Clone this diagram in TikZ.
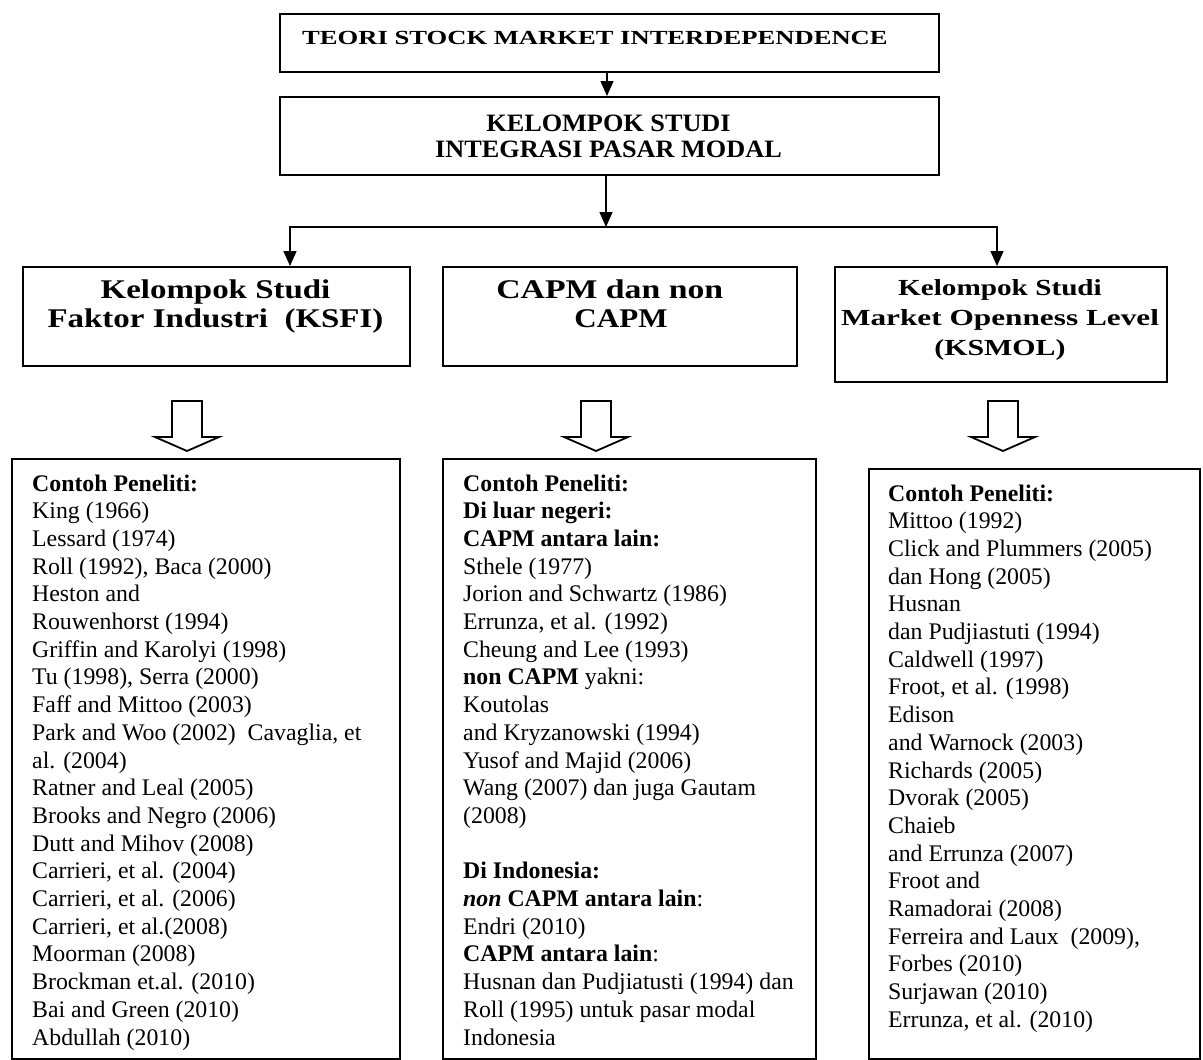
\documentclass[tikz,border=0pt]{standalone}
\usepackage{fontspec}
\setmainfont{Liberation Serif}
\usepackage{graphicx}
\usetikzlibrary{arrows.meta}

\begin{document}
\begin{tikzpicture}[x=1pt,y=-1pt,
  frame/.style={draw, line width=1.8pt, inner sep=0pt, anchor=north west},
  conn/.style={line width=1.4pt, -{Triangle[length=15pt,width=13pt]}},
  fork/.style={line width=1.4pt, {Triangle[length=15pt,width=13pt]}-{Triangle[length=15pt,width=13pt]}},
  hollow/.style={draw, line width=1.8pt, line join=miter},
  headtext/.style={anchor=base, align=center, inner sep=0pt},
  listtext/.style={anchor=base west, align=left, inner sep=0pt,
                   font=\fontsize{23.8}{27.7}\selectfont}]

\useasboundingbox (0,0) rectangle (1203,1060);

% --- top level boxes ---
\node[frame, minimum width=659pt, minimum height=58pt] (teori) at (279,13) {};
\node[anchor=base west, inner sep=0pt] (teoritxt) at (302,45)
  {\fontsize{20}{24}\selectfont\bfseries\scalebox{1.33}[1]{TEORI STOCK MARKET INTERDEPENDENCE}};

\node[frame, minimum width=659pt, minimum height=78pt] (kelompok) at (279,96) {};
% multi-line nodes: the base anchor sits on the last line
\node[headtext, font=\fontsize{25}{26}\selectfont\bfseries] (kelompoktxt) at (608.5,157.7)
  {\scalebox{1.05}[1]{KELOMPOK STUDI}\\\scalebox{1.05}[1]{INTEGRASI PASAR MODAL}};

% --- three study groups ---
\node[frame, minimum width=387pt, minimum height=99pt] (ksfi) at (22,266) {};
\node[headtext, font=\fontsize{27}{29}\selectfont\bfseries] (ksfitxt) at (215.5,327)
  {\scalebox{1.22}[1]{Kelompok Studi}\\\scalebox{1.22}[1]{Faktor Industri\ \ (KSFI)}};

\node[frame, minimum width=354pt, minimum height=99pt] (capm) at (442,266) {};
\node[headtext, font=\fontsize{27}{29}\selectfont\bfseries] (capmtxt) at (621,327)
  {\scalebox{1.25}[1]{CAPM dan non\hspace*{18pt}}\\\scalebox{1.15}[1]{CAPM}};

\node[frame, minimum width=332pt, minimum height=115pt] (ksmol) at (834,266) {};
\node[headtext, font=\fontsize{23}{30}\selectfont\bfseries] (ksmoltxt) at (1000,355)
  {\scalebox{1.27}[1]{Kelompok Studi}\\\scalebox{1.36}[1]{Market Openness Level}\\\scalebox{1.3}[1]{(KSMOL)}};

% --- connectors ---
\draw[conn] (teori.south -| 607,0) -- (kelompok.north -| 607,0);
\coordinate (split) at (606,227);
\coordinate (jl) at (290,227);
\coordinate (jr) at (997,227);
\draw[conn] (kelompok.south -| split) -- (split);
\draw[fork] (jl |- ksfi.north) -- (jl) -- (jr) -- (jr |- ksmol.north);

% --- hollow arrows ---
\draw[hollow] (172,401) -- (172,437) -- (155,437) -- (187,451) -- (219,437) -- (202,437) -- (202,401) -- cycle;
\draw[hollow] (581,401) -- (581,437) -- (564,437) -- (596,451) -- (628,437) -- (611,437) -- (611,401) -- cycle;
\draw[hollow] (988,401) -- (988,437) -- (971,437) -- (1003,451) -- (1035,437) -- (1018,437) -- (1018,401) -- cycle;

% --- researcher lists ---
\node[frame, minimum width=388pt, minimum height=600pt] (list1) at (11,458) {};
\node[listtext] (list1txt) at (32,1045) {%
\textbf{Contoh Peneliti:}\\
King (1966)\\
Lessard (1974)\\
Roll (1992), Baca (2000)\\
Heston and\\
Rouwenhorst (1994)\\
Griffin and Karolyi (1998)\\
Tu (1998), Serra (2000)\\
Faff and Mittoo (2003)\\
Park and Woo (2002)\ \ Cavaglia, et\\
al. (2004)\\
Ratner and Leal (2005)\\
Brooks and Negro (2006)\\
Dutt and Mihov (2008)\\
Carrieri, et al. (2004)\\
Carrieri, et al. (2006)\\
Carrieri, et al.(2008)\\
Moorman (2008)\\
Brockman et.al. (2010)\\
Bai and Green (2010)\\
Abdullah (2010)};

\node[frame, minimum width=373pt, minimum height=600pt] (list2) at (442,458) {};
\node[listtext] (list2txt) at (463,1045) {%
\textbf{Contoh Peneliti:}\\
\textbf{Di luar negeri:}\\
\textbf{CAPM antara lain:}\\
Sthele (1977)\\
Jorion and Schwartz (1986)\\
Errunza, et al. (1992)\\
Cheung and Lee (1993)\\
\textbf{non CAPM} yakni:\\
Koutolas\\
and Kryzanowski (1994)\\
Yusof and Majid (2006)\\
Wang (2007) dan juga Gautam\\
(2008)\\
\mbox{}\\
\textbf{Di Indonesia:}\\
\textbf{\textit{non} CAPM antara lain}:\\
Endri (2010)\\
\textbf{CAPM antara lain}:\\
Husnan dan Pudjiatusti (1994) dan\\
Roll (1995) untuk pasar modal\\
Indonesia};

\node[frame, minimum width=331pt, minimum height=590pt] (list3) at (868,468) {};
\node[listtext] (list3txt) at (888,1027.3) {%
\textbf{Contoh Peneliti:}\\
Mittoo (1992)\\
Click and Plummers (2005)\\
dan Hong (2005)\\
Husnan\\
dan Pudjiastuti (1994)\\
Caldwell (1997)\\
Froot, et al. (1998)\\
Edison\\
and Warnock (2003)\\
Richards (2005)\\
Dvorak (2005)\\
Chaieb\\
and Errunza (2007)\\
Froot and\\
Ramadorai (2008)\\
Ferreira and Laux\ \ (2009),\\
Forbes (2010)\\
Surjawan (2010)\\
Errunza, et al. (2010)};

\end{tikzpicture}
\end{document}
